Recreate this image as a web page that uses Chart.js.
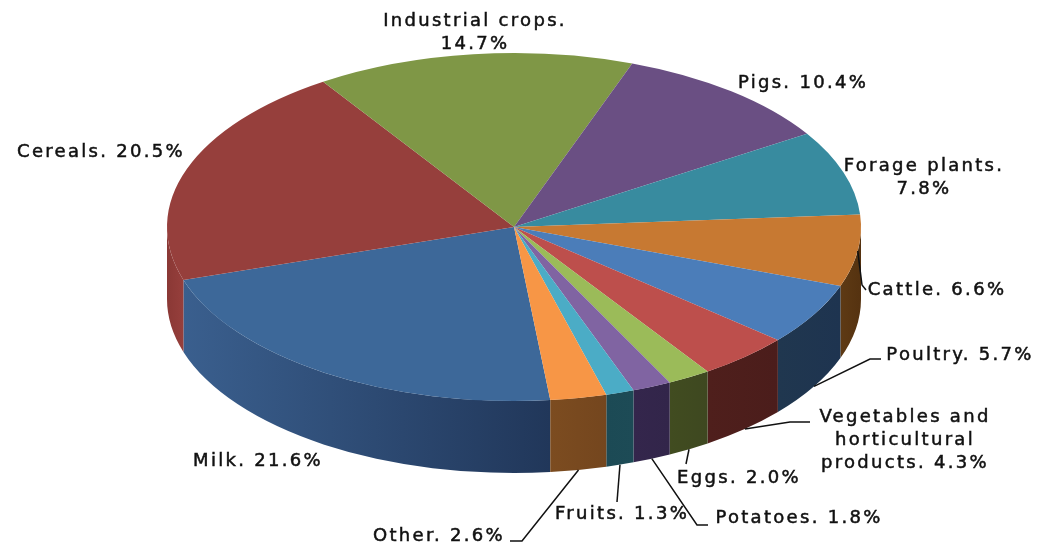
<!DOCTYPE html>
<html>
<head>
<meta charset="utf-8">
<style>
  html, body { margin: 0; padding: 0; background: #fff; }
  #Grafico { display: block; filter: blur(0.6px); }
</style>
<script src="https://cdn.jsdelivr.net/npm/chart.js@4"></script>
</head>
<body>
<canvas id="Grafico" width="1039" height="547"></canvas>
<script>
const categorias = ['Milk', 'Cereals', 'Industrial crops', 'Pigs', 'Forage plants', 'Cattle', 'Poultry',
    'Vegetables and horticultural products', 'Eggs', 'Potatoes', 'Fruits', 'Other'];
const valores = [21.6, 20.5, 14.7, 10.4, 7.8, 6.6, 5.7, 4.3, 2.0, 1.8, 1.3, 2.6];

const etiquetas = [
    ['Milk. 21.6%'],
    ['Cereals. 20.5%'],
    ['Industrial crops.', '14.7%'],
    ['Pigs. 10.4%'],
    ['Forage plants.', '7.8%'],
    ['Cattle. 6.6%'],
    ['Poultry. 5.7%'],
    ['Vegetables and', 'horticultural', 'products. 4.3%'],
    ['Eggs. 2.0%'],
    ['Potatoes. 1.8%'],
    ['Fruits. 1.3%'],
    ['Other. 2.6%']
];

const colores_cara = ['#3d6899', '#963f3c', '#7f9746', '#6a4f83', '#388b9f', '#c77932',
    '#4b7db9', '#bd4f4c', '#9bbb59', '#8064a2', '#4bacc6', '#f79646'];
const colores_pared = [
    ['#3a5f8e', '#21375a'], ['#8a3835', '#963f3c'], ['#6a7d3a', '#6a7d3a'], ['#584269', '#584269'],
    ['#2e7485', '#2e7485'], ['#5e3a14', '#553210'], ['#20374f', '#1e3450'], ['#4f1f1c', '#4b1d1b'],
    ['#414c20', '#3e4820'], ['#34264c', '#32254a'], ['#1c4a55', '#1d4b56'], ['#7c4c20', '#74461e']
];

// position of each text (center x, first line y) and the bends of its leader line
const pos_etiquetas = [
    { x: 258, y: 461 },
    { x: 101, y: 152 },
    { x: 475, y: 21 },
    { x: 803, y: 83 },
    { x: 924, y: 166 },
    { x: 937, y: 290, codos: [[862, 285], [866, 290]], ancla: 'cara' },
    { x: 960, y: 355, codos: [[870, 359], [881, 359]] },
    { x: 905, y: 417, codos: [[790, 422], [810, 422]] },
    { x: 739, y: 478, codos: [[686, 464]] },
    { x: 799, y: 518, codos: [[697, 525], [708, 525]] },
    { x: 622, y: 514, codos: [[617, 502]] },
    { x: 439, y: 536, codos: [[522, 541], [510, 541]] }
];

const radio_x = 347;
const radio_y = 174;
const alto_pared = 72;

function dibujarPared(ctx, cx, cy, ini, fin, colores) {
    const vueltas = [-2 * Math.PI, 0, 2 * Math.PI];
    for (let i = 0; i < vueltas.length; i++) {
        const a = Math.max(ini + vueltas[i], 0);
        const b = Math.min(fin + vueltas[i], Math.PI);
        if (b <= a) continue;
        const x0 = cx + radio_x * Math.cos(a);
        const x1 = cx + radio_x * Math.cos(b);
        const grad = ctx.createLinearGradient(x0, 0, x1, 0);
        grad.addColorStop(0, colores[1]);
        grad.addColorStop(1, colores[0]);
        ctx.beginPath();
        ctx.ellipse(cx, cy, radio_x, radio_y, 0, a, b);
        ctx.ellipse(cx, cy + alto_pared, radio_x, radio_y, 0, b, a, true);
        ctx.closePath();
        ctx.fillStyle = grad;
        ctx.fill();
    }
}

const pastel3d = {
    id: 'pastel3d',
    beforeDatasetsDraw(chart) {
        const ctx = chart.ctx;
        const arcos = chart.getDatasetMeta(0).data;
        const cx = arcos[0].x;
        const cy = arcos[0].y;
        ctx.save();
        for (let i = 0; i < arcos.length; i++) {
            dibujarPared(ctx, cx, cy, arcos[i].startAngle, arcos[i].endAngle, colores_pared[i]);
        }
        ctx.restore();
        // the library draws a circle, squash it into the ellipse of the top face
        ctx.save();
        ctx.translate(cx, cy);
        ctx.scale(radio_x / arcos[0].outerRadius, radio_y / arcos[0].outerRadius);
        ctx.translate(-cx, -cy);
    },
    afterDatasetsDraw(chart) {
        chart.ctx.restore();
    },
    afterDraw(chart) {
        const ctx = chart.ctx;
        const arcos = chart.getDatasetMeta(0).data;
        ctx.save();
        for (let i = 0; i < arcos.length; i++) {
            const p = pos_etiquetas[i];
            if (p.codos) {
                const medio = (arcos[i].startAngle + arcos[i].endAngle) / 2;
                const abajo = p.ancla === 'cara' ? 0 : alto_pared;
                ctx.beginPath();
                ctx.moveTo(arcos[i].x + radio_x * Math.cos(medio), arcos[i].y + abajo + radio_y * Math.sin(medio));
                p.codos.forEach((c) => ctx.lineTo(c[0], c[1]));
                ctx.strokeStyle = '#111';
                ctx.lineWidth = 1.5;
                ctx.stroke();
            }
            ctx.font = '18px "DejaVu Sans"';
            ctx.letterSpacing = '2.3px';
            ctx.textAlign = 'center';
            ctx.textBaseline = 'middle';
            ctx.fillStyle = '#111';
            ctx.strokeStyle = '#111';
            ctx.lineWidth = 0.5;
            etiquetas[i].forEach((linea, n) => {
                ctx.fillText(linea, p.x, p.y + n * 23);
                ctx.strokeText(linea, p.x, p.y + n * 23);
            });
        }
        ctx.restore();
    }
};

new Chart(document.getElementById('Grafico'), {
    type: 'pie',
    data: {
        labels: categorias,
        datasets: [{
            data: valores,
            backgroundColor: colores_cara,
            borderWidth: 0
        }]
    },
    options: {
        responsive: false,
        animation: false,
        events: [],
        rotation: 174,
        layout: { padding: { left: 0, right: 11, top: 0, bottom: 93 } },
        plugins: {
            legend: { display: false },
            tooltip: { enabled: false }
        }
    },
    plugins: [pastel3d]
});
</script>
</body>
</html>
